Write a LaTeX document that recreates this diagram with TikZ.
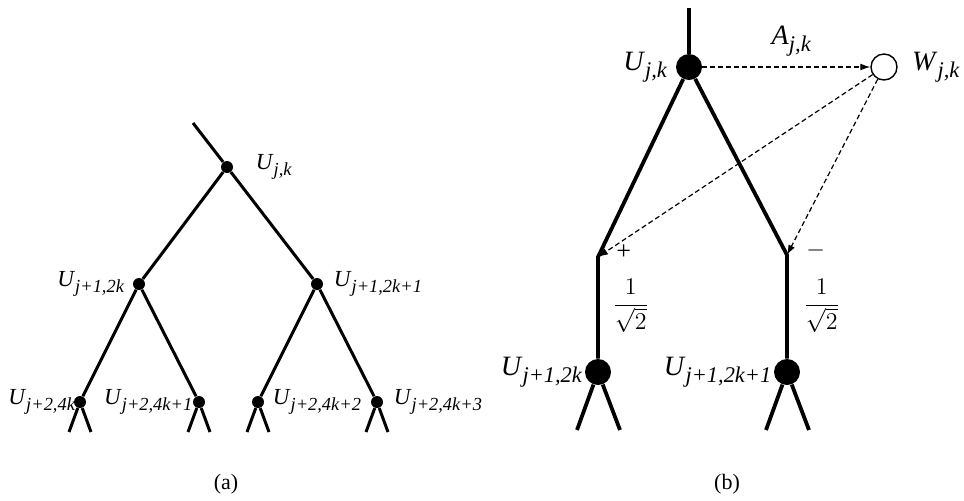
\documentclass[tikz,border=0pt]{standalone}
\usepackage{fontspec}
\setmainfont{Liberation Serif}
\usetikzlibrary{arrows.meta,positioning,calc}
\newcommand{\idx}[2]{\textit{#1}\raisebox{-0.55ex}{\scalebox{0.8}{\textit{#2}}}}

\begin{document}
\begin{tikzpicture}[x=0.5pt,y=-0.5pt]
    \tikzset{
      dot/.style={circle,fill=black,inner sep=0pt,minimum size=6pt},
      bigdot/.style={circle,fill=black,inner sep=0pt,minimum size=13pt},
      hollow/.style={circle,draw=black,line width=0.7pt,fill=white,inner sep=0pt,minimum size=13pt},
      branch/.style={line width=1.5pt},
      thickbranch/.style={line width=1.9pt,line join=round},
      dasharrow/.style={-{Latex[length=5pt,width=3.5pt]},dash pattern=on 2.5pt off 1.5pt,line width=0.6pt},
      lbl/.style={inner sep=0pt,font=\fontsize{11.5}{13}\selectfont},
      biglbl/.style={inner sep=0pt,font=\fontsize{14}{16}\selectfont},
      sign/.style={inner sep=0pt,font=\fontsize{13}{15}\selectfont},
      weight/.style={inner sep=0pt,font=\fontsize{12}{14}\selectfont},
      caption/.style={inner sep=0pt,font=\fontsize{11}{13}\selectfont}
    }
    \useasboundingbox (0,0) rectangle (964,500);
    % (a) three levels of the tree
    \coordinate (atop) at (193,123);
    \node[dot] (a0) at (227,167) {};
    \node[dot] (a1) at (139,284) {};
    \node[dot] (a2) at (317,284) {};
    \node[dot] (a3) at (80,402) {};
    \node[dot] (a4) at (199,402) {};
    \node[dot] (a5) at (258,402) {};
    \node[dot] (a6) at (377,402) {};
    \draw[branch] (atop) -- (a0);
    \draw[branch] (a0) -- (a1);
    \draw[branch] (a0) -- (a2);
    \draw[branch] (a1) -- (a3);
    \draw[branch] (a1) -- (a4);
    \draw[branch] (a2) -- (a5);
    \draw[branch] (a2) -- (a6);
    \foreach \n in {3,...,6} {
      \path (a\n.center) ++(-11,30) coordinate (a\n l);
      \path (a\n.center) ++(11,30) coordinate (a\n r);
      \draw[branch] (a\n) -- (a\n l);
      \draw[branch] (a\n) -- (a\n r);
    }
    \node[lbl,right=11pt of a0] (la0) {\idx{U}{j,k}};
    \node[lbl,left=4pt of a1] (la1) {\idx{U}{j+1,2k}};
    \node[lbl,right=5pt of a2] (la2) {\idx{U}{j+1,2k+1}};
    \node[lbl,left=-1pt of a3] (la3) {\idx{U}{j+2,4k}};
    \node[lbl,left=0pt of a4] (la4) {\idx{U}{j+2,4k+1}};
    \node[lbl,right=4pt of a5] (la5) {\idx{U}{j+2,4k+2}};
    \node[lbl,right=5pt of a6] (la6) {\idx{U}{j+2,4k+3}};
    \node[caption] (capa) at (226,484) {(a)};
    % (b) one step with the detail coefficient
    \coordinate (btop) at (689,8);
    \node[bigdot] (b0) at (689,67) {};
    \node[hollow] (w) at (884,67) {};
    \coordinate (bl) at (598,257);
    \coordinate (br) at (787,255);
    \node[bigdot] (b1) at (598,372) {};
    \node[bigdot] (b2) at (787,372) {};
    \draw[thickbranch] (btop) -- (b0);
    \draw[thickbranch] (b0) -- (bl) -- (b1);
    \draw[thickbranch] (b0) -- (br) -- (b2);
    \foreach \n in {1,2} {
      \path (b\n.center) ++(-21,58) coordinate (b\n l);
      \path (b\n.center) ++(22,58) coordinate (b\n r);
      \draw[thickbranch] (b\n) -- (b\n l);
      \draw[thickbranch] (b\n) -- (b\n r);
    }
    \draw[dasharrow] (b0) -- node[biglbl,above=5pt,pos=0.53] (la) {\idx{A}{j,k}} (w);
    \draw[dasharrow] (w) -- (bl);
    \draw[dasharrow] (w) -- (br);
    \node[biglbl,left=4pt of b0] (lb0) {\idx{U}{j,k}};
    \node[biglbl,right=7pt of w] (lw) {\idx{W}{j,k}};
    \node[biglbl,left=1pt of b1] (lb1) {\idx{U}{j+1,2k}};
    \node[biglbl,left=1pt of b2] (lb2) {\idx{U}{j+1,2k+1}};
    \node[sign,anchor=west] (plus) at ([shift={(9pt,2.5pt)}]bl) {+};
    \node[sign,anchor=west] (minus) at ([shift={(9.5pt,2.5pt)}]br) {$-$};
    \node[weight,anchor=west] (fl) at (612,306) {$\displaystyle\frac{1}{\sqrt{2}}$};
    \node[weight,anchor=west] (fr) at (803,306) {$\displaystyle\frac{1}{\sqrt{2}}$};
    \node[caption] (capb) at (727,484) {(b)};
  \end{tikzpicture}
\end{document}
